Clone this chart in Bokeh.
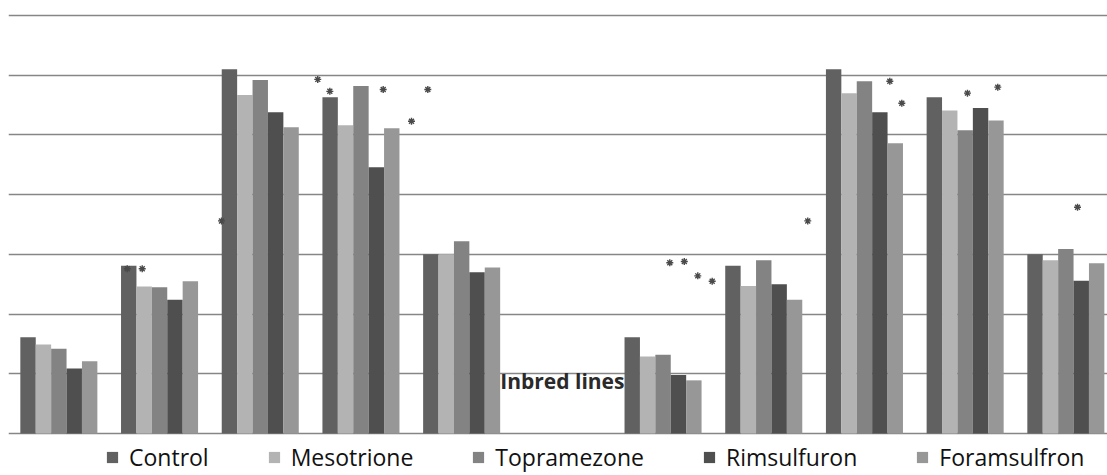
from bokeh.plotting import figure
from bokeh.models import Range1d, FixedTicker, Legend, LegendItem, ColumnDataSource
from bokeh.core.properties import value
from bokeh.embed import file_html
from bokeh.resources import INLINE

# ---- data ----
groups = [0, 1, 2, 3, 4, 6, 7, 8, 9, 10]          # category index (index 5 is empty)
series = ["Control", "Mesotrione", "Topramezone", "Rimsulfuron", "Foramsulfron"]
colors = ["#616161", "#b3b3b3", "#838383", "#4f4f4f", "#979797"]
control      = [1.61, 2.81, 6.10, 5.63, 3.00, 1.61, 2.81, 6.10, 5.63, 3.00]
mesotrione   = [1.49, 2.46, 5.67, 5.16, 3.00, 1.29, 2.47, 5.70, 5.41, 2.90]
topramezone  = [1.42, 2.45, 5.92, 5.82, 3.22, 1.32, 2.90, 5.90, 5.08, 3.09]
rimsulfuron  = [1.09, 2.24, 5.38, 4.46, 2.70, 0.98, 2.50, 5.38, 5.45, 2.56]
foramsulfron = [1.21, 2.55, 5.13, 5.11, 2.78, 0.89, 2.24, 4.86, 5.24, 2.85]
values = [control, mesotrione, topramezone, rimsulfuron, foramsulfron]

# significance asterisks (x in category units, y in value units)
star_x = [1.179, 1.328, 2.115, 3.071, 3.191, 3.721, 4.164, 4.002, 6.567, 6.711,
          6.845, 6.988, 7.937, 8.752, 8.871, 9.523, 9.824, 10.616]
star_y = [2.76, 2.76, 3.56, 5.93, 5.73, 5.76, 5.76, 5.23, 2.86, 2.88,
          2.64, 2.55, 3.56, 5.90, 5.53, 5.70, 5.80, 3.79]

axis_title = "Inbred lines"
axis_title_x = 5.5
axis_title_y = 0.88

bar_w = 0.153
px_per_unit = 59.7

p = figure(width=1107, height=475, output_backend="svg", toolbar_location=None,
           x_range=Range1d(0, 1099 / 100.7),
           y_range=Range1d(-42 / px_per_unit, 7 + 15 / px_per_unit),
           min_border=0, min_border_left=8, min_border_right=0,
           min_border_top=0, min_border_bottom=0)
p.outline_line_color = None
p.xaxis.visible = False
p.yaxis.visible = False
p.xgrid.visible = False
p.ygrid.ticker = FixedTicker(ticks=[0, 1, 2, 3, 4, 5, 6, 7])
p.ygrid.grid_line_color = "#868686"
p.ygrid.grid_line_width = 1.5

items = []
for s, (name, col, vals) in enumerate(zip(series, colors, values)):
    xs = [g + 0.5 + (s - 2) * bar_w for g in groups]
    src = ColumnDataSource(dict(x=xs, top=vals))
    r = p.vbar(x="x", top="top", bottom=0, width=bar_w, source=src,
               fill_color=col, line_color=None)
    items.append(LegendItem(label=name, renderers=[r]))

p.scatter(star_x, star_y, marker="asterisk", size=7, line_color="#4a4a4a", line_width=1.4)

p.text(x=[axis_title_x], y=[axis_title_y], text=[axis_title],
       text_font=value("Open Sans"), text_font_style="bold", text_font_size="21px",
       text_color="#2a2a2a", text_align="center", text_baseline="middle")

legend = Legend(items=items, orientation="horizontal", location=(97, 2),
                label_text_font="Open Sans", label_text_font_size="23px",
                label_text_color="#111111", glyph_width=14, glyph_height=14,
                label_standoff=10, spacing=58, padding=0, margin=0,
                border_line_color=None, background_fill_alpha=0)
p.add_layout(legend)

open("out.html", "w").write(file_html(p, INLINE))
